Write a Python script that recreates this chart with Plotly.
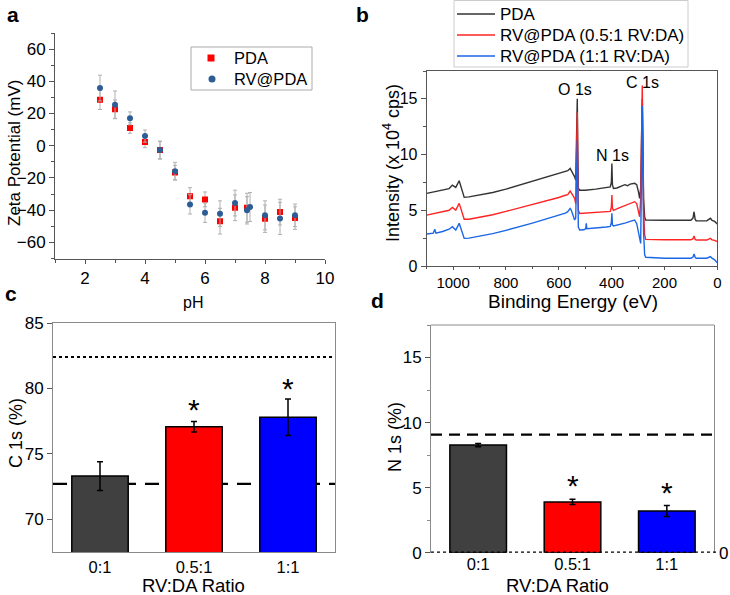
import plotly.graph_objects as go

W, H = 730, 595
FONT = "Liberation Sans, Arial, sans-serif"

# ---- panel a: zeta potential vs pH ----
ph_pda = [2.5, 3, 3.5, 4, 4.5, 5, 5.5, 6, 6.5, 7, 7.4, 8, 8.5, 9]
zeta_pda = [28.5, 22.7, 11.0, 2.3, -2.7, -16.6, -31.4, -33.3, -46.8, -38.5, -38.5, -45.3, -41.2, -44.9]
zeta_pda_err = [6.0, 5.7, 3.3, 3.5, 5.5, 4.5, 5.4, 4.6, 8.0, 8.0, 9.0, 8.5, 8.0, 7.0]

ph_rv = [2.5, 3, 3.5, 4, 4.5, 5, 5.5, 6, 6.5, 7, 7.4, 7.5, 8, 8.5, 9]
zeta_rv = [35.8, 25.4, 17.0, 6.0, -2.7, -15.8, -36.4, -41.6, -42.2, -35.6, -40.1, -38.0, -43.2, -45.1, -43.2]
zeta_rv_err = [8.0, 8.6, 4.0, 3.8, 5.5, 5.5, 6.0, 6.0, 8.0, 8.0, 8.5, 9.0, 9.0, 10.0, 7.0]

# ---- panel b: XPS survey spectra ----
be_pda = [1100, 1070, 1040, 1015, 1003, 990, 977, 968, 958, 940, 900, 850, 800, 750, 700, 650, 600,
          575, 566, 557, 548, 540, 536, 532, 530, 528, 526, 521, 500, 460, 420, 405, 401, 399, 397,
          393, 380, 360, 350, 340, 330, 313, 305, 298, 294, 290, 286, 284, 282, 279, 275, 271, 200,
          100, 92, 88, 84, 80, 40, 30, 26, 20, 10, 0]
int_pda = [6.52, 6.65, 6.8, 6.95, 7.26, 7.05, 7.65, 7.0, 6.16, 6.2, 6.35, 6.6, 6.9, 7.25, 7.6, 7.95, 8.3,
           8.5, 8.55, 8.76, 8.4, 8.0, 7.7, 12.0, 15.0, 10.0, 7.0, 6.8, 6.8, 6.9, 7.05, 7.1, 7.5, 9.2, 7.3,
           6.95, 7.0, 7.2, 7.3, 7.2, 7.35, 7.42, 7.3, 6.6, 6.07, 7.0, 13.0, 15.0, 12.0, 6.0, 4.4, 4.13, 4.1,
           4.1, 4.3, 4.87, 4.2, 4.06, 4.05, 4.25, 4.28, 4.1, 4.0, 3.77]

be_05 = [1100, 1070, 1040, 1015, 1003, 990, 977, 968, 958, 940, 900, 850, 800, 750, 700, 650, 600,
         575, 566, 557, 548, 540, 536, 532, 530, 528, 526, 521, 500, 460, 420, 405, 401, 399, 397,
         393, 376, 350, 330, 313, 305, 298, 294, 290, 286, 284, 282, 279, 275, 271, 200,
         100, 92, 88, 84, 80, 40, 30, 26, 20, 10, 0]
int_05 = [4.57, 4.7, 4.85, 5.0, 5.26, 5.02, 5.62, 5.0, 4.19, 4.2, 4.35, 4.6, 4.9, 5.2, 5.5, 5.8, 6.15,
          6.35, 6.4, 6.73, 6.4, 6.07, 5.6, 10.0, 13.8, 9.0, 5.0, 4.72, 4.75, 4.8, 4.85, 4.9, 5.3, 6.37, 5.2,
          5.0, 5.17, 5.4, 5.6, 5.77, 5.6, 5.0, 4.42, 6.0, 13.0, 16.2, 12.0, 5.0, 2.8, 2.39, 2.35,
          2.35, 2.45, 2.69, 2.4, 2.33, 2.33, 2.45, 2.48, 2.35, 2.3, 2.18]

be_11 = [1100, 1075, 1069, 1065, 1040, 1015, 1003, 990, 977, 968, 958, 940, 900, 850, 800, 750, 700,
         650, 600, 575, 566, 557, 553, 548, 540, 536, 532, 530, 528, 526, 521, 505, 498, 496, 494,
         460, 420, 405, 401, 399, 397, 393, 376, 350, 330, 313, 305, 298, 290, 287, 284, 282, 279,
         275, 271, 200, 100, 92, 88, 84, 80, 40, 30, 26, 20, 10, 0]
int_11 = [2.87, 2.95, 3.29, 2.95, 3.1, 3.3, 3.52, 3.23, 3.83, 3.2, 2.48, 2.5, 2.65, 2.9, 3.2, 3.5, 3.85,
          4.2, 4.55, 4.75, 4.87, 5.17, 5.02, 4.6, 4.13, 4.3, 8.0, 11.3, 7.0, 3.5, 3.23, 3.25, 3.35, 3.83, 3.35,
          3.4, 3.5, 3.55, 3.9, 4.73, 3.7, 3.6, 3.68, 3.85, 4.0, 4.13, 3.8, 3.0, 2.03, 8.0, 14.35, 10.0, 3.0,
          1.0, 0.78, 0.7, 0.7, 0.8, 1.08, 0.8, 0.69, 0.7, 0.82, 0.84, 0.7, 0.55, 0.3]

peak_labels = ["O 1s", "N 1s", "C 1s"]
peak_be = [540, 396, 282]
peak_int = [15.8, 9.95, 16.5]

# ---- panels c, d: bars ----
ratios = ["0:1", "0.5:1", "1:1"]
bar_colors = ["#404040", "#ff0000", "#0000ff"]
c1s = [73.3, 77.07, 77.8]
c1s_err = [1.1, 0.4, 1.4]
c1s_dotted = 82.4
c1s_dashed = 72.7
c1s_star = [None, 78.4, 80.0]

n1s = [8.27, 3.9, 3.2]
n1s_err = [0.12, 0.2, 0.42]
n1s_dashed = 9.08
n1s_dotted = 0
n1s_star = [None, 5.2, 4.65]


def px_x(p):
    return p / W


def px_y(p):
    return 1 - p / H


fig = go.Figure()

# panel a
fig.add_trace(go.Scatter(
    x=ph_pda, y=zeta_pda, mode="markers", name="PDA",
    marker=dict(symbol="square", size=6, color="#ff0000"),
    error_y=dict(type="data", array=zeta_pda_err, color="#b0b0b0", thickness=1, width=2),
    xaxis="x", yaxis="y", showlegend=False))
fig.add_trace(go.Scatter(
    x=ph_rv, y=zeta_rv, mode="markers", name="RV@PDA",
    marker=dict(symbol="circle", size=6, color="#2c5d96"),
    error_y=dict(type="data", array=zeta_rv_err, color="#b0b0b0", thickness=1, width=2),
    xaxis="x", yaxis="y", showlegend=False))

# panel b
spectra = [(be_pda, int_pda, "PDA", "#333333"),
           (be_05, int_05, "RV@PDA (0.5:1 RV:DA)", "#ff2424"),
           (be_11, int_11, "RV@PDA (1:1 RV:DA)", "#1a66e6")]
for be, inten, nm, col in spectra:
    fig.add_trace(go.Scatter(x=be, y=inten, mode="lines", name=nm,
                             line=dict(color=col, width=1.4),
                             xaxis="x2", yaxis="y2", showlegend=False))

# panels c and d
fig.add_trace(go.Bar(
    x=ratios, y=c1s, marker=dict(color=bar_colors, line=dict(color="black", width=1.5)),
    width=0.6, error_y=dict(type="data", array=c1s_err, color="black", thickness=1.5, width=3),
    xaxis="x3", yaxis="y3", showlegend=False))
fig.add_trace(go.Bar(
    x=ratios, y=n1s, marker=dict(color=bar_colors, line=dict(color="black", width=1.5)),
    width=0.6, error_y=dict(type="data", array=n1s_err, color="black", thickness=1.5, width=3),
    xaxis="x4", yaxis="y4", showlegend=False))

# reference lines
fig.add_shape(type="line", xref="x3 domain", x0=0, x1=1, yref="y3", y0=c1s_dotted, y1=c1s_dotted,
              line=dict(color="black", width=2.2, dash="dot"), layer="below")
fig.add_shape(type="line", xref="x3 domain", x0=0, x1=1, yref="y3", y0=c1s_dashed, y1=c1s_dashed,
              line=dict(color="black", width=2.2, dash="14px,9px"), layer="below")
fig.add_shape(type="line", xref="x4 domain", x0=0, x1=1, yref="y4", y0=n1s_dashed, y1=n1s_dashed,
              line=dict(color="black", width=2.2, dash="11px,7px"), layer="below")
fig.add_shape(type="line", xref="x4 domain", x0=0, x1=1.01, yref="y4", y0=n1s_dotted, y1=n1s_dotted,
              line=dict(color="black", width=2.2, dash="dot"), layer="above")
fig.add_shape(type="line", xref="x4 domain", x0=0, x1=1, yref="y4 domain", y0=1, y1=1,
              line=dict(color="#8a8a8a", width=1))

ann = []

# legend boxes drawn by hand so the spacing follows the original
fig.add_shape(type="rect", xref="paper", yref="paper", x0=px_x(191), x1=px_x(312),
              y0=px_y(90), y1=px_y(47), line=dict(color="#aaaaaa", width=1), fillcolor="white")
fig.add_shape(type="rect", xref="paper", yref="paper", x0=px_x(207.5), x1=px_x(214.5),
              y0=px_y(61.5), y1=px_y(54.5), line=dict(width=0), fillcolor="#ff0000")
fig.add_shape(type="circle", xref="paper", yref="paper", x0=px_x(208.5), x1=px_x(215.5),
              y0=px_y(82.5), y1=px_y(75.5), line=dict(width=0), fillcolor="#2c5d96")
for t, yp in [("PDA", 58), ("RV@PDA", 79)]:
    ann.append(dict(x=px_x(232), y=px_y(yp), xref="paper", yref="paper", text=t,
                    showarrow=False, xanchor="left", yanchor="middle", font=dict(size=16.5)))

fig.add_shape(type="rect", xref="paper", yref="paper", x0=px_x(454), x1=px_x(688),
              y0=px_y(67), y1=px_y(0.5), line=dict(color="#cccccc", width=1), fillcolor="white")
for (be, inten, nm, col), yp in zip(spectra, [14, 35, 56]):
    fig.add_shape(type="line", xref="paper", yref="paper", x0=px_x(457), x1=px_x(495),
                  y0=px_y(yp), y1=px_y(yp), line=dict(color=col, width=1.4))
    ann.append(dict(x=px_x(498), y=px_y(yp), xref="paper", yref="paper", text=nm,
                    showarrow=False, xanchor="left", yanchor="middle", font=dict(size=17)))

# asterisks
for xs, ys, xa, ya in [(ratios, c1s_star, "x3", "y3"), (ratios, n1s_star, "x4", "y4")]:
    for xv, yv in zip(xs, ys):
        if yv is not None:
            ann.append(dict(x=xv, y=yv, xref=xa, yref=ya, text="*", showarrow=False,
                            font=dict(size=30, color="black")))
for t, xv, yv in zip(peak_labels, peak_be, peak_int):
    ann.append(dict(x=xv, y=yv, xref="x2", yref="y2", text=t, showarrow=False,
                    font=dict(size=16, color="black")))

# panel letters and axis titles
texts = [
    ("a", 13, 14, 0, 21, True), ("b", 362, 14, 0, 21, True),
    ("c", 11, 293, 0, 21, True), ("d", 377, 300, 0, 21, True),
    ("Zeta Potential (mV)", 15, 153, -90, 17, False),
    ("pH", 193, 302, 0, 16, False),
    ("Intensity (x 10<sup>4</sup> cps)", 391, 163, -90, 18, False),
    ("Binding Energy (eV)", 573, 301, 0, 19, False),
    ("C 1s (%)", 16, 433, -90, 18, False),
    ("RV:DA Ratio", 193, 585.5, 0, 18.5, False),
    ("N 1s (%)", 395, 437, -90, 18, False),
    ("RV:DA Ratio", 557, 585.5, 0, 18.5, False),
    ("0", 723, 553, 0, 17, False),
]
for t, xp, yp, ang, sz, bold in texts:
    ann.append(dict(x=px_x(xp), y=px_y(yp), xref="paper", yref="paper",
                    text=f"<b>{t}</b>" if bold else t, textangle=ang, showarrow=False,
                    xanchor="center", yanchor="middle", font=dict(size=sz, color="black")))

axis_common = dict(showline=True, linecolor="#555555", linewidth=1, ticks="outside",
                   ticklen=5, tickcolor="#555555", showgrid=False, zeroline=False,
                   automargin=False, tickfont=dict(size=16, color="black"))

fig.update_layout(
    width=W, height=H, margin=dict(l=0, r=0, t=0, b=0),
    paper_bgcolor="white", plot_bgcolor="white",
    font=dict(family=FONT, color="black"),
    bargap=0.4,
    xaxis=dict(axis_common, domain=[px_x(55), px_x(325)], range=[1, 10], dtick=2, tick0=0,
               ticklen=4, minor=dict(ticks="outside", ticklen=3, dtick=1, tickcolor="#555555"),
               anchor="y", tickfont=dict(size=17)),
    yaxis=dict(axis_common, domain=[px_y(258.5), px_y(33)], range=[-70, 70], dtick=20, tick0=0,
               minor=dict(ticks="outside", ticklen=3, dtick=10, tickcolor="#555555"),
               anchor="x", tickfont=dict(size=17)),
    xaxis2=dict(axis_common, domain=[px_x(426.7), px_x(717.3)], range=[1100, 0], dtick=200,
                tick0=0, mirror=True, ticklen=3,
                minor=dict(ticks="outside", ticklen=2, dtick=100, tickcolor="#555555"),
                anchor="y2", tickfont=dict(size=15)),
    yaxis2=dict(axis_common, domain=[px_y(266), px_y(71)], range=[0, 17.5], dtick=5, tick0=0,
                mirror=True, minor=dict(ticks="outside", ticklen=3, dtick=2.5, tickcolor="#555555"),
                anchor="x2", tickfont=dict(size=16)),
    xaxis3=dict(axis_common, domain=[px_x(53), px_x(335)], type="category", range=[-0.5, 2.5],
                ticks="", mirror=True, linecolor="#8a8a8a", anchor="y3", tickfont=dict(size=16.5)),
    yaxis3=dict(axis_common, domain=[px_y(552), px_y(323)], range=[67.5, 85], dtick=5, tick0=0,
                mirror=True, linecolor="#8a8a8a", anchor="x3", tickfont=dict(size=17)),
    xaxis4=dict(axis_common, domain=[px_x(431), px_x(714)], type="category", range=[-0.5, 2.5],
                ticks="", showline=False, anchor="y4", tickfont=dict(size=16.5)),
    yaxis4=dict(axis_common, domain=[px_y(552.7), px_y(325)], range=[0, 17.5], dtick=5, tick0=0,
                mirror=True, linecolor="#8a8a8a", anchor="x4", tickfont=dict(size=17),
                minor=dict(ticks="outside", ticklen=3, dtick=2.5, tickcolor="#8a8a8a")),
    annotations=ann,
)

fig.write_html("out.html", config={"displayModeBar": False},
               post_script="document.body.style.margin='0';")
